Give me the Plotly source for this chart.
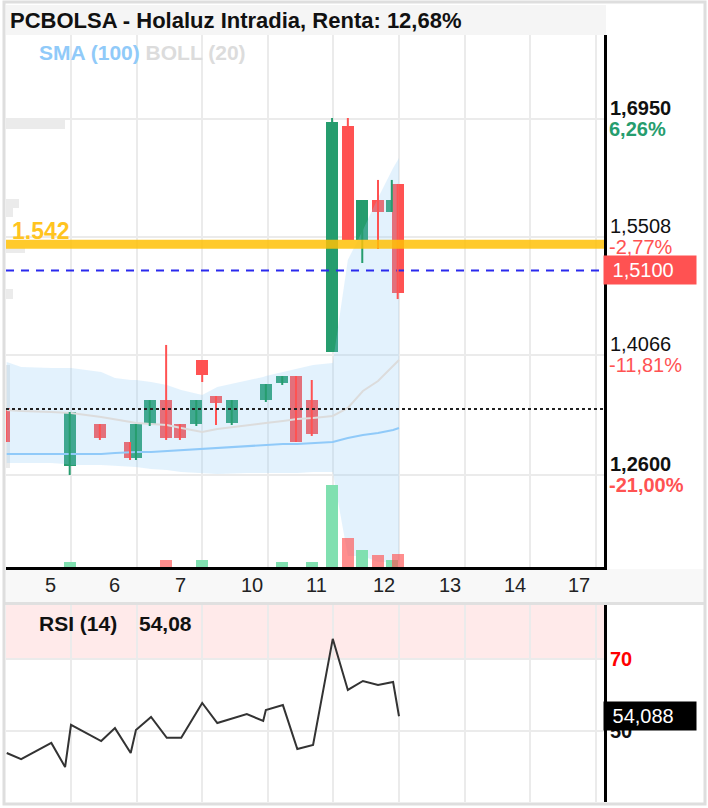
import math
import plotly.graph_objects as go

W, H = 708, 808

# ---------------- data ----------------
day_labels = ["5", "6", "7", "10", "11", "12", "13", "14", "17"]
day_label_pos = [-0.32, 0.67, 1.67, 2.76, 3.74, 4.77, 5.77, 6.77, 7.74]
day_grid = [0, 1, 2, 3, 4, 5, 6, 7, 8]

candle_x = [-1.02, -0.02, 0.44, 0.90, 0.99, 1.20, 1.45, 1.66, 1.91, 2.00, 2.21,
            2.45, 2.97, 3.22, 3.43, 3.67, 3.98, 4.22, 4.44, 4.68, 4.89, 4.98]
candle_open = [1.3419, 1.2710, 1.3223, 1.3003, 1.2808, 1.3223, 1.3516, 1.3223, 1.3223, 1.4005, 1.3565,
               1.3235, 1.3516, 1.3724, 1.3810, 1.3516, 1.4103, 1.6864, 1.5472, 1.5960, 1.5814, 1.6156]
candle_high = [1.3419, 1.3370, 1.3223, 1.3003, 1.3223, 1.3516, 1.4189, 1.3223, 1.3516, 1.4005, 1.3565,
               1.3516, 1.3712, 1.3810, 1.3810, 1.3761, 1.6962, 1.6962, 1.5960, 1.6205, 1.6205, 1.6156]
candle_low = [1.3003, 1.2600, 1.3028, 1.2783, 1.2783, 1.3199, 1.3028, 1.3028, 1.3199, 1.3736, 1.3211,
              1.3211, 1.3492, 1.3700, 1.3003, 1.3077, 1.4103, 1.5472, 1.5190, 1.5362, 1.5814, 1.4750]
candle_close = [1.3003, 1.3370, 1.3052, 1.2808, 1.3223, 1.3516, 1.3052, 1.3052, 1.3516, 1.3822, 1.3480,
                1.3516, 1.3712, 1.3810, 1.3003, 1.3101, 1.6913, 1.5472, 1.5960, 1.5814, 1.5960, 1.4824]

vol_x = [-0.02, 1.45, 2.00, 3.22, 3.67, 3.98, 4.22, 4.44, 4.68, 4.89, 4.98]
vol_k = [10.5, 14, 14, 10, 10, 170, 60, 35, 25, 14, 27]          # thousand shares
vol_up = [True, False, True, True, True, True, False, True, False, True, False]

ind_x = [-0.98, -0.76, -0.30, -0.09, 0.0, 0.46, 0.67, 0.91, 0.99, 1.22, 1.46, 1.68, 2.0,
         2.23, 2.68, 2.93, 2.97, 3.23, 3.45, 3.69, 3.99, 4.22, 4.45, 4.68, 4.91, 5.0]
boll_upper = [1.3981, 1.3920, 1.3907, 1.3907, 1.3907, 1.3859, 1.3785, 1.3761, 1.3761, 1.3736, 1.3700,
              1.3639, 1.3578, 1.3675, 1.3749, 1.3797, 1.3810, 1.3859, 1.3907, 1.3944, 1.3969,
              1.5227, 1.5594, 1.5985, 1.6351, 1.6473]
boll_mid = [1.3394, 1.3382, 1.3370, 1.3358, 1.3358, 1.3309, 1.3284, 1.3248, 1.3235, 1.3223, 1.3211,
            1.3174, 1.3125, 1.3162, 1.3211, 1.3235, 1.3235, 1.3260, 1.3284, 1.3297, 1.3321,
            1.3419, 1.3626, 1.3749, 1.3932, 1.4005]
boll_lower = [1.2747, 1.2747, 1.2747, 1.2734, 1.2722, 1.2722, 1.2710, 1.2698, 1.2698, 1.2673, 1.2661,
              1.2637, 1.2624, 1.2612, 1.2624, 1.2624, 1.2624, 1.2624, 1.2624, 1.2637, 1.2637,
              1.1610, 1.1610, 1.1537, 1.1537, 1.1537]
sma100 = [1.2857, 1.2857, 1.2857, 1.2857, 1.2857, 1.2857, 1.2869, 1.2881, 1.2881, 1.2881, 1.2893,
          1.2905, 1.2918, 1.2930, 1.2954, 1.2967, 1.2967, 1.2979, 1.2979, 1.2991, 1.3003,
          1.3052, 1.3089, 1.3113, 1.3150, 1.3174]
rsi14 = [43.9, 42.2, 46.7, 40.0, 51.7, 47.2, 50.8, 43.9, 50.3, 53.9, 48.1, 48.1, 57.8,
         52.2, 54.7, 52.8, 55.8, 57.2, 45.0, 46.1, 75.6, 61.4, 63.9, 62.8, 63.6, 54.088]

price_ticks = [1.6950, 1.5508, 1.4066, 1.2600]
price_tick_text = ["1,6950", "1,5508", "1,4066", "1,2600"]
pct_tick_text = ["6,26%", "-2,77%", "-11,81%", "-21,00%"]
tick_bold = [True, False, False, True]
rsi_ticks = [30, 50, 70]
rsi_tick_colors = ["#1a8a1a", "#111111", "#ff0000"]

level_yellow = 1.542
last_price = 1.51
ref_dotted = 1.3405
rsi_last = 54.088

title_text = "PCBOLSA - Holaluz Intradia, Renta: 12,68%"

# ---------------- style ----------------
FONT = "Liberation Sans, Arial, sans-serif"
GREEN = "#269d6e"
RED = "#ff5252"
GRID = "#ebebeb"
X_RANGE = [-0.991, 8.125]


def px_x(p):
    return p / W


def px_y(p):
    return 1 - p / H


fig = go.Figure()

# Bollinger band fill
fig.add_trace(go.Scatter(x=ind_x, y=boll_lower, mode="lines", line=dict(width=0, color="rgba(0,0,0,0)"),
                         xaxis="x", yaxis="y", hoverinfo="skip"))
fig.add_trace(go.Scatter(x=ind_x, y=boll_upper, mode="lines", line=dict(width=0, color="rgba(0,0,0,0)"),
                         fill="tonexty", fillcolor="rgba(144,202,249,0.25)", xaxis="x", yaxis="y"))
fig.add_trace(go.Scatter(x=ind_x, y=boll_mid, mode="lines", line=dict(width=2, color="#dcdcdc"),
                         xaxis="x", yaxis="y"))
fig.add_trace(go.Scatter(x=ind_x, y=sma100, mode="lines", line=dict(width=2, color="#90caf9"),
                         xaxis="x", yaxis="y"))

# current price dashed line (under candles)
fig.add_trace(go.Scatter(x=X_RANGE, y=[last_price, last_price], mode="lines",
                         line=dict(width=2, color="#2a2aee", dash="8px,7px"), xaxis="x", yaxis="y"))

# candle wicks
for up in (True, False):
    xs, ys = [], []
    for x, o, h, l, c in zip(candle_x, candle_open, candle_high, candle_low, candle_close):
        if (c >= o) == up:
            xs += [x, x, None]
            ys += [l, h, None]
    fig.add_trace(go.Scatter(x=xs, y=ys, mode="lines", line=dict(width=2, color=GREEN if up else RED),
                             xaxis="x", yaxis="y"))

# candle bodies
fig.add_trace(go.Bar(x=candle_x, y=[c - o for o, c in zip(candle_open, candle_close)], base=candle_open,
                     width=0.183, marker=dict(color=[GREEN if c >= o else RED for o, c in
                                                     zip(candle_open, candle_close)], line=dict(width=0)),
                     xaxis="x", yaxis="y"))

# reference dotted line and yellow level
fig.add_trace(go.Scatter(x=X_RANGE, y=[ref_dotted, ref_dotted], mode="lines",
                         line=dict(width=2, color="#222222", dash="3px,3px"), xaxis="x", yaxis="y"))
fig.add_trace(go.Scatter(x=X_RANGE, y=[level_yellow, level_yellow], mode="lines",
                         line=dict(width=9, color="rgba(255,193,7,0.85)"), xaxis="x", yaxis="y"))

# volume
fig.add_trace(go.Bar(x=vol_x, y=vol_k, width=0.183,
                     marker=dict(color=["#80e0b0" if u else "rgba(255,82,82,0.65)" for u in vol_up],
                                 line=dict(width=0)),
                     xaxis="x", yaxis="y3"))

# RSI
fig.add_trace(go.Scatter(x=ind_x, y=rsi14, mode="lines", line=dict(width=2, color="#333333"),
                         xaxis="x2", yaxis="y2"))

fig.update_layout(
    width=W, height=H, margin=dict(l=0, r=0, t=0, b=0),
    paper_bgcolor="white", plot_bgcolor="rgba(0,0,0,0)",
    showlegend=False, barmode="overlay", bargap=0,
    font=dict(family=FONT, color="#111"),
    xaxis=dict(domain=[px_x(6), px_x(604)], range=X_RANGE, tickvals=day_grid, showticklabels=False,
               showgrid=True, gridcolor=GRID, gridwidth=2, zeroline=False, ticks="",
               showline=True, linecolor="black", linewidth=3, anchor="y"),
    yaxis=dict(domain=[px_y(567), px_y(35)], range=[1.1476, 1.7976], tickvals=price_ticks,
               showticklabels=False, showgrid=True, gridcolor=GRID, gridwidth=2, zeroline=False,
               side="right", showline=True, linecolor="black", linewidth=3, ticks="", anchor="x"),
    yaxis3=dict(overlaying="y", range=[0, 1103], visible=False, anchor="x"),
    xaxis2=dict(domain=[px_x(6), px_x(604)], range=X_RANGE, tickvals=day_grid, showticklabels=False,
                showgrid=True, gridcolor=GRID, gridwidth=2, zeroline=False, ticks="", anchor="y2",
                matches="x"),
    yaxis2=dict(domain=[px_y(802), px_y(605)], range=[30.28, 85.0], tickvals=rsi_ticks,
                showticklabels=False, showgrid=True, gridcolor=GRID, gridwidth=2, zeroline=False,
                side="right", showline=True, linecolor="black", linewidth=3, ticks="", anchor="x2"),
)

shapes = []
# title band
shapes.append(dict(type="rect", xref="paper", yref="paper", x0=px_x(6), x1=px_x(606), y0=px_y(35), y1=px_y(5),
                   fillcolor="#f5f5f5", line=dict(width=0), layer="below"))
# x label band + separator
shapes.append(dict(type="rect", xref="paper", yref="paper", x0=px_x(5), x1=px_x(705), y0=px_y(602), y1=px_y(569),
                   fillcolor="#f8f8f8", line=dict(width=0), layer="below"))
shapes.append(dict(type="rect", xref="paper", yref="paper", x0=px_x(5), x1=px_x(705), y0=px_y(605), y1=px_y(602),
                   fillcolor="#e0e0e0", line=dict(width=0), layer="below"))
# faint clipped labels on the left edge
for (a, b, c, d) in [(6, 118, 65, 129), (6, 199, 19, 208), (6, 208, 13, 217), (6, 248, 25, 253),
                     (6, 289, 13, 299), (6, 365, 10, 468)]:
    shapes.append(dict(type="rect", xref="paper", yref="paper", x0=px_x(a), x1=px_x(c), y0=px_y(d), y1=px_y(b),
                       fillcolor="#ebebeb", line=dict(width=0), layer="below"))
# RSI overbought band
shapes.append(dict(type="rect", xref="x2 domain", yref="y2", x0=0, x1=1, y0=70, y1=85.0,
                   fillcolor="#ffeaea", line=dict(width=0), layer="below"))
# outer frame
shapes.append(dict(type="rect", xref="paper", yref="paper", x0=px_x(4), x1=px_x(705), y0=px_y(804), y1=px_y(2),
                   line=dict(color="#dedede", width=3), fillcolor="rgba(0,0,0,0)", layer="above"))
fig.update_layout(shapes=shapes)

ann = []
ann.append(dict(text="<b>" + title_text + "</b>", xref="paper", yref="paper", x=px_x(8), y=px_y(20),
                xanchor="left", yanchor="middle", showarrow=False, font=dict(size=22, color="#111")))
ann.append(dict(text="<b><span style='color:#90caf9'>SMA (100)</span> "
                     "<span style='color:#dcdcdc'>BOLL (20)</span></b>",
                xref="paper", yref="paper", x=px_x(37), y=px_y(53), xanchor="left", yanchor="middle",
                showarrow=False, font=dict(size=21)))
ann.append(dict(text="<b>1.542</b>", xref="paper", yref="y", x=px_x(10), y=level_yellow, yshift=13,
                xanchor="left", yanchor="middle", showarrow=False, font=dict(size=23, color="#ffc41f")))

for v, t, p, b in zip(price_ticks, price_tick_text, pct_tick_text, tick_bold):
    pc = GREEN if not p.startswith("-") else RED
    ann.append(dict(text=("<b>%s</b>" % t) if b else t, xref="paper", yref="y", x=px_x(608), y=v, yshift=11,
                    xanchor="left", yanchor="middle", showarrow=False, font=dict(size=20, color="#111")))
    ann.append(dict(text=("<b>%s</b>" % p) if b else p, xref="paper", yref="y", x=px_x(607), y=v, yshift=-10,
                    xanchor="left", yanchor="middle", showarrow=False, font=dict(size=20, color=pc)))

ann.append(dict(text="&nbsp;" + "{:.4f}".format(last_price).replace(".", ","), xref="paper", yref="y",
                x=px_x(603), y=last_price, xanchor="left", yanchor="middle", showarrow=False,
                bgcolor=RED, width=86, height=22, borderpad=3, align="left",
                font=dict(size=20, color="white")))

for v, col in zip(rsi_ticks, rsi_tick_colors):
    ann.append(dict(text="<b>%d</b>" % v, xref="paper", yref="y2", x=px_x(608), y=v, xanchor="left",
                    yanchor="middle", showarrow=False, font=dict(size=20, color=col)))
ann.append(dict(text="&nbsp;" + "{:.3f}".format(rsi_last).replace(".", ","), xref="paper", yref="y2",
                x=px_x(603), y=rsi_last, xanchor="left", yanchor="middle", showarrow=False,
                bgcolor="black", width=86, height=22, borderpad=3, align="left",
                font=dict(size=20, color="white")))

rsi_head = "{:.2f}".format(math.floor(rsi14[-1] * 100) / 100).replace(".", ",")
ann.append(dict(text="<b>RSI (14)</b>", xref="paper", yref="paper", x=px_x(37), y=px_y(623),
                xanchor="left", yanchor="middle", showarrow=False, font=dict(size=21, color="#111")))
ann.append(dict(text="<b>" + rsi_head + "</b>", xref="paper",
                yref="paper", x=px_x(137), y=px_y(623), xanchor="left", yanchor="middle", showarrow=False,
                font=dict(size=21, color="#111")))

for lab, pos in zip(day_labels, day_label_pos):
    ann.append(dict(text=lab, xref="x", yref="paper", x=pos, y=px_y(585), xanchor="center", yanchor="middle",
                    showarrow=False, font=dict(size=20, color="#222")))

fig.update_layout(annotations=ann)

fig.write_html("out.html")
